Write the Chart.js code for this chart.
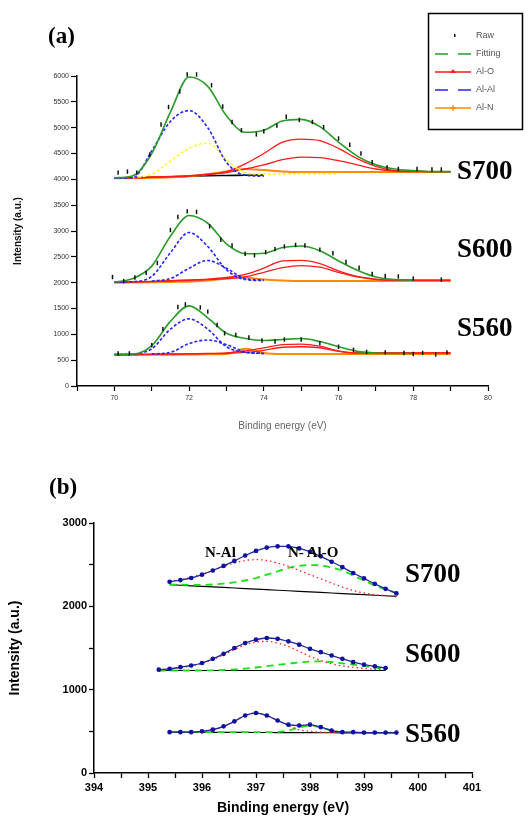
<!DOCTYPE html>
<html>
<head>
<meta charset="utf-8">
<script src="https://cdn.jsdelivr.net/npm/chart.js@4.4.1/dist/chart.umd.min.js"></script>
<style>
    html, body { margin: 0; padding: 0; background: #fff; width: 528px; height: 819px; overflow: hidden; position: relative; }
    #boxA { position: absolute; left: 0; top: 0; width: 528px; height: 440px; }
    #boxB { position: absolute; left: 0; top: 440px; width: 528px; height: 379px; }
    .lbl { position: absolute; font-family: 'Liberation Serif', 'Times New Roman', serif; font-weight: bold; color: #000; white-space: nowrap; line-height: 1; }
</style>
</head>
<body>
<div id="boxA"><canvas id="chartA"></canvas></div>
<div id="boxB"><canvas id="chartB"></canvas></div>

<div class="lbl" style="left:48px;top:24px;font-size:23px">(a)</div>
<div class="lbl" style="left:457px;top:157px;font-size:27px">S700</div>
<div class="lbl" style="left:457px;top:235px;font-size:27px">S600</div>
<div class="lbl" style="left:457px;top:314px;font-size:27px">S560</div>

<div class="lbl" style="left:49px;top:475px;font-size:23px">(b)</div>
<div class="lbl" style="left:205px;top:545px;font-size:15px">N-Al</div>
<div class="lbl" style="left:288px;top:545px;font-size:15px">N- Al-O</div>
<div class="lbl" style="left:405px;top:560px;font-size:27px">S700</div>
<div class="lbl" style="left:405px;top:640px;font-size:27px">S600</div>
<div class="lbl" style="left:405px;top:720px;font-size:27px">S560</div>

<script>
/* ─────────────────────────────────────────────
   Data – panel (a), Al 2p region
───────────────────────────────────────────── */
const E_A = [70, 70.5, 71, 71.5, 72, 72.5, 73, 73.5, 74, 74.5, 75, 75.5, 76, 76.5, 77, 77.5, 78, 78.5, 79];

// S700
const fit700  = [4030, 4070, 4500, 5300, 5980, 5800, 5230, 4910, 4950, 5130, 5160, 5020, 4720, 4450, 4280, 4200, 4170, 4150, 4150];
const alal700 = [4020, 4030, 4550, 5120, 5330, 5000, 4330, 4080, 4060, null, null, null, null, null, null, null, null, null, null];
const yel700  = [null, 4030, 4100, 4350, 4600, 4700, 4380, 4130, 4100, 4105, 4110, 4110, 4110, null, null, null, null, null, null];
const aloA700 = [4030, 4030, 4040, 4055, 4070, 4100, 4150, 4300, 4500, 4720, 4780, 4750, 4600, 4400, 4250, 4170, 4160, 4150, 4150];
const aloB700 = [4030, 4030, 4040, 4050, 4060, 4090, 4130, 4200, 4280, 4380, 4430, 4420, 4360, 4280, 4200, 4160, 4150, 4150, 4150];
const aln700  = [4020, 4025, 4030, 4040, 4060, 4100, 4150, 4200, 4180, 4150, 4140, 4140, 4140, 4140, 4140, 4140, 4140, 4140, 4140];
const base700 = [4020, 4030, 4040, 4050, 4060, 4070, 4075, 4080, 4085, null, null, null, null, null, null, null, null, null, null];
const rawX700 = [70.1, 70.35, 70.6, 70.95, 71.25, 71.45, 71.75, 71.95, 72.2, 72.6, 72.9, 73.15, 73.4, 73.8, 74.0, 74.35, 74.6, 74.95, 75.3, 75.6, 76.0, 76.3, 76.6, 76.9, 77.3, 77.6, 78.1, 78.5, 78.75];
const rawY700 = [4130, 4150, 4130, 4480, 5060, 5400, 5700, 6030, 6030, 5820, 5410, 5110, 4950, 4870, 4930, 5040, 5210, 5150, 5110, 5010, 4790, 4670, 4500, 4330, 4230, 4200, 4200, 4190, 4190];

// S600
const fit600  = [2010, 2080, 2320, 2900, 3300, 3150, 2750, 2560, 2570, 2680, 2710, 2620, 2420, 2240, 2110, 2060, 2050, null, null];
const alal600 = [2010, 2020, 2120, 2580, 2970, 2700, 2250, 2060, 2040, null, null, null, null, null, null, null, null, null, null];
const alb600  = [null, null, 2030, 2080, 2280, 2430, 2280, 2080, 2050, null, null, null, null, null, null, null, null, null, null];
const aloA600 = [2010, 2015, 2025, 2040, 2055, 2070, 2100, 2160, 2280, 2420, 2430, 2370, 2230, 2120, 2070, 2050, 2050, 2050, 2050];
const aloB600 = [2010, 2015, 2020, 2030, 2045, 2060, 2080, 2110, 2200, 2290, 2330, 2300, 2200, 2110, 2060, 2050, 2050, 2050, 2050];
const aln600  = [2000, 2005, 2010, 2015, 2020, 2040, 2080, 2100, 2060, 2040, 2030, 2030, 2030, 2030, 2030, 2030, 2030, 2030, 2030];
const rawX600 = [69.95, 70.25, 70.55, 70.85, 71.15, 71.5, 71.7, 71.95, 72.2, 72.55, 72.85, 73.15, 73.5, 73.75, 74.05, 74.3, 74.55, 74.85, 75.1, 75.5, 75.85, 76.2, 76.55, 76.9, 77.25, 77.6, 78.0, 78.75];
const rawY600 = [2110, 2030, 2100, 2190, 2380, 3020, 3270, 3380, 3370, 3090, 2830, 2720, 2560, 2530, 2590, 2650, 2700, 2730, 2720, 2640, 2570, 2400, 2290, 2170, 2130, 2120, 2080, 2060];

// S560
const fit560  = [610, 615, 780, 1250, 1550, 1320, 1020, 920, 880, 900, 920, 860, 760, 670, 640, 630, 630, null, null];
const alal560 = [610, 620, 720, 1100, 1300, 1100, 760, 650, 630, null, null, null, null, null, null, null, null, null, null];
const alb560  = [null, null, 620, 650, 820, 890, 800, 660, 630, null, null, null, null, null, null, null, null, null, null];
const aloA560 = [610, 610, 615, 620, 625, 630, 640, 680, 740, 800, 810, 770, 680, 640, 640, 640, 640, 640, 640];
const aloB560 = [610, 610, 612, 615, 620, 625, 630, 650, 690, 750, 760, 740, 670, 640, 640, 640, 640, 640, 640];
const aln560  = [600, 600, 605, 605, 610, 615, 620, 720, 640, 620, 620, 620, 620, 620, 620, 620, 620, 620, 620];
const rawX560 = [70.1, 70.4, 71.0, 71.3, 71.7, 71.9, 72.3, 72.5, 72.75, 72.95, 73.25, 73.6, 73.95, 74.3, 74.55, 75.0, 75.5, 76.0, 76.4, 76.75, 77.25, 77.75, 78.0, 78.25, 78.6, 78.9];
const rawY560 = [630, 630, 790, 1100, 1530, 1580, 1520, 1440, 1180, 1020, 990, 940, 880, 860, 900, 900, 830, 760, 700, 660, 650, 640, 620, 640, 610, 650];

/* ─────────────────────────────────────────────
   Data – panel (b), N 1s region
───────────────────────────────────────────── */
const X_B700 = [395.4, 395.6, 395.8, 396.0, 396.2, 396.4, 396.6, 396.8, 397.0, 397.2, 397.4, 397.6, 397.8, 398.0, 398.2, 398.4, 398.6, 398.8, 399.0, 399.2, 399.4, 399.6];
const X_B600 = [395.2, 395.4, 395.6, 395.8, 396.0, 396.2, 396.4, 396.6, 396.8, 397.0, 397.2, 397.4, 397.6, 397.8, 398.0, 398.2, 398.4, 398.6, 398.8, 399.0, 399.2, 399.4];
const X_B560 = X_B700;

const env700  = [2295, 2315, 2340, 2380, 2430, 2485, 2545, 2610, 2665, 2705, 2720, 2720, 2695, 2655, 2600, 2535, 2470, 2400, 2335, 2270, 2210, 2155];
const nal700  = [2300, 2320, 2350, 2390, 2430, 2480, 2520, 2550, 2560, 2550, 2520, 2480, 2430, 2380, 2330, 2280, 2230, 2190, 2160, 2140, 2125, 2115];
const nalo700 = [2262, 2260, 2258, 2258, 2262, 2272, 2288, 2310, 2340, 2380, 2420, 2460, 2485, 2495, 2490, 2465, 2430, 2370, 2310, 2250, 2200, 2165];
const bl700   = [2260, 2253, 2246, 2240, 2233, 2227, 2220, 2213, 2207, 2200, 2193, 2187, 2180, 2173, 2167, 2160, 2153, 2147, 2140, 2133, 2127, 2120];

const env600  = [1240, 1250, 1270, 1290, 1320, 1370, 1430, 1500, 1560, 1600, 1620, 1610, 1580, 1540, 1490, 1450, 1410, 1370, 1330, 1300, 1280, 1260];
const nal600  = [1240, 1245, 1265, 1285, 1315, 1360, 1420, 1480, 1540, 1570, 1580, 1560, 1520, 1460, 1400, 1350, 1310, 1285, 1270, 1255, 1245, 1240];
const nalo600 = [1230, 1230, 1230, 1230, 1230, 1232, 1236, 1242, 1252, 1266, 1282, 1298, 1312, 1326, 1338, 1340, 1332, 1316, 1300, 1282, 1266, 1250];
const bl600   = [1230, 1230, 1230, 1230, 1230, 1230, 1230, 1230, 1230, 1230, 1230, 1230, 1230, 1230, 1230, 1230, 1230, 1230, 1230, 1230, 1230, 1230];

const env560  = [490, 490, 490, 500, 520, 560, 620, 690, 720, 690, 630, 580, 570, 580, 550, 510, 490, 490, 485, 485, 485, 485];
const nal560  = [490, 490, 490, 500, 520, 560, 620, 690, 720, 690, 630, 570, 520, 500, 490, 488, 486, 485, 485, 485, 485, 485];
const nalo560 = [490, 490, 490, 490, 490, 490, 490, 490, 490, 490, 492, 510, 545, 570, 545, 510, 490, 486, 485, 485, 485, 485];
const bl560   = [490, 490, 489, 489, 488, 488, 487, 487, 486, 486, 485, 485, 484, 484, 483, 483, 482, 482, 481, 481, 480, 480];

/* ─────────────────────────────────────────────
   Helpers
───────────────────────────────────────────── */
const GREEN = '#2a9a2a';
const RED = '#ff1a1a';
const BLUE = '#2424ff';
const YELLOW = '#ffff30';
const ORANGE = '#ff8a00';

function pts(xs, ys) { return xs.map((x, i) => ({ x, y: ys[i] })); }

function curve(ys, color, width, dash, xs = E_A) {
    return {
        type: 'line', data: pts(xs, ys), borderColor: color, borderWidth: width,
        borderDash: dash || [], pointRadius: 0, cubicInterpolationMode: 'monotone',
        spanGaps: false, fill: false, clip: 8
    };
}
function raw(xs, ys) {
    return {
        type: 'line', data: pts(xs, ys), showLine: false, pointStyle: 'line', rotation: 90,
        pointRadius: 2.2, borderColor: '#111', pointBorderWidth: 1.5, backgroundColor: '#111', clip: 8
    };
}

function sample(f, a1, a2, a2col, o1, o2, n, rx, ry, base) {
    const list = [raw(rx, ry), curve(f, GREEN, 1.6)];
    list.push(curve(a1, BLUE, 1.6, [3, 2]));
    list.push(curve(a2, a2col, 1.6, [3, 2]));
    list.push(curve(o1, RED, 1.3));
    list.push(curve(o2, RED, 1.3));
    list.push(curve(n, ORANGE, 2));
    if (base) list.push(curve(base, '#000', 1.6));
    return list;
}

/* ─────────────────────────────────────────────
   Legend drawn inside canvas (a)
───────────────────────────────────────────── */
const legendA = {
    id: 'legendA',
    afterDraw(chart) {
        const c = chart.ctx;
        c.save();
        c.strokeStyle = '#000'; c.lineWidth = 1.5;
        c.strokeRect(428.5, 13.5, 94, 116);
        const rows = [
            ['Raw', null, null, 'dot'],
            ['Fitting', GREEN, [13, 10], null],
            ['Al-O', RED, [], 'tri'],
            ['Al-Al', BLUE, [13, 10], null],
            ['Al-N', ORANGE, [], 'plus']
        ];
        c.font = '9px "Liberation Sans", Arial, sans-serif';
        c.textBaseline = 'middle';
        rows.forEach(([label, col, dash, mark], i) => {
            const y = 36 + i * 18;
            if (col) {
                c.strokeStyle = col; c.lineWidth = 1.5; c.setLineDash(dash);
                c.beginPath(); c.moveTo(435, y); c.lineTo(471, y); c.stroke();
                c.setLineDash([]);
            }
            if (mark === 'dot') { c.fillStyle = '#111'; c.fillRect(454, y - 2, 1.5, 3); }
            if (mark === 'tri') { c.fillStyle = RED; c.beginPath(); c.moveTo(453, y - 3); c.lineTo(456, y + 1); c.lineTo(450, y + 1); c.fill(); }
            if (mark === 'plus') { c.strokeStyle = ORANGE; c.lineWidth = 1.3; c.beginPath(); c.moveTo(453, y - 3); c.lineTo(453, y + 3); c.moveTo(450, y); c.lineTo(456, y); c.stroke(); }
            c.fillStyle = '#555';
            c.fillText(label, 476, y);
        });
        c.restore();
    }
};

/* ─────────────────────────────────────────────
   Chart (a)
───────────────────────────────────────────── */
const dsA = [
    ...sample(fit700, alal700, yel700, YELLOW, aloA700, aloB700, aln700, rawX700, rawY700, base700),
    ...sample(fit600, alal600, alb600, BLUE, aloA600, aloB600, aln600, rawX600, rawY600),
    ...sample(fit560, alal560, alb560, BLUE, aloA560, aloB560, aln560, rawX560, rawY560)
];

new Chart(document.getElementById('chartA'), {
    type: 'line',
    data: { datasets: dsA },
    options: {
        responsive: true, maintainAspectRatio: false, animation: false,
        layout: { padding: { left: 0, top: 76, right: 40, bottom: 0 } },
        plugins: { legend: { display: false }, tooltip: { enabled: false } },
        scales: {
            x: {
                type: 'linear', min: 69, max: 80,
                afterFit: s => { s.height = 54; },
                grid: { drawOnChartArea: false, tickLength: 5, color: '#000', tickWidth: 1.2 },
                border: { color: '#000', width: 1.5 },
                ticks: { stepSize: 1, autoSkip: false, maxRotation: 0, padding: 3, color: '#333', font: { size: 7, family: 'Liberation Sans' },
                    callback: v => (v % 2 === 0 ? String(v) : '') },
                title: { display: true, text: 'Binding energy (eV)', color: '#666', font: { size: 10, family: 'Liberation Sans' }, padding: { top: 0, bottom: 8 } }
            },
            y: {
                min: 0, max: 6000,
                afterFit: s => { s.width = 77; },
                grid: { drawOnChartArea: false, tickLength: 6, color: '#000', tickWidth: 1.2 },
                border: { color: '#000', width: 1.5 },
                ticks: { stepSize: 500, padding: 2, color: '#333', font: { size: 7, family: 'Liberation Sans' },
                    callback: v => String(v) },
                title: { display: true, text: 'Intensity (a.u.)', color: '#111', font: { size: 10, weight: 'bold', family: 'Liberation Sans' }, padding: { top: 12, bottom: 0 } }
            }
        }
    },
    plugins: [legendA]
});

/* ─────────────────────────────────────────────
   Chart (b)
───────────────────────────────────────────── */
function bSet(xs, env, nal, nalo, bl) {
    return [
        { type: 'line', data: pts(xs, env), borderColor: '#1c2a9a', borderWidth: 1.3, pointRadius: 1.7,
          pointBackgroundColor: '#1010a0', pointBorderColor: '#1010a0', cubicInterpolationMode: 'monotone' },
        { type: 'line', data: pts(xs, nal), borderColor: '#ff2020', borderWidth: 1.3, borderDash: [1.5, 3], pointRadius: 0, cubicInterpolationMode: 'monotone' },
        { type: 'line', data: pts(xs, nalo), borderColor: '#19e019', borderWidth: 1.8, borderDash: [7, 5], pointRadius: 0, cubicInterpolationMode: 'monotone' },
        { type: 'line', data: pts(xs, bl), borderColor: '#000', borderWidth: 1.2, pointRadius: 0 }
    ];
}

new Chart(document.getElementById('chartB'), {
    type: 'line',
    data: { datasets: [...bSet(X_B700, env700, nal700, nalo700, bl700), ...bSet(X_B600, env600, nal600, nalo600, bl600), ...bSet(X_B560, env560, nal560, nalo560, bl560)] },
    options: {
        responsive: true, maintainAspectRatio: false, animation: false,
        layout: { padding: { left: 0, top: 83, right: 56, bottom: 0 } },
        plugins: { legend: { display: false }, tooltip: { enabled: false } },
        scales: {
            x: {
                type: 'linear', min: 394, max: 401,
                afterFit: s => { s.height = 46; },
                grid: { drawOnChartArea: false, tickLength: 5, color: '#000', tickWidth: 1.3 },
                border: { color: '#000', width: 1.5 },
                ticks: { stepSize: 0.5, autoSkip: false, maxRotation: 0, padding: 3, color: '#000', font: { size: 11, weight: 'bold', family: 'Liberation Sans' },
                    callback: v => (Number.isInteger(v) ? String(v) : '') },
                title: { display: true, text: 'Binding energy (eV)', color: '#000', font: { size: 14, weight: 'bold', family: 'Liberation Sans' }, padding: { top: 0, bottom: 2 } }
            },
            y: {
                min: 0, max: 3000,
                afterFit: s => { s.width = 94; },
                grid: { drawOnChartArea: false, tickLength: 5, color: '#000', tickWidth: 1.3 },
                border: { color: '#000', width: 1.5 },
                ticks: { stepSize: 500, padding: 2, color: '#000', font: { size: 11, weight: 'bold', family: 'Liberation Sans' },
                    callback: v => (v % 1000 === 0 ? String(v) : '') },
                title: { display: true, text: 'Intensity (a.u.)', color: '#000', font: { size: 14, weight: 'bold', family: 'Liberation Sans' }, padding: { top: 7, bottom: 0 } }
            }
        }
    }
});
</script>
</body>
</html>
